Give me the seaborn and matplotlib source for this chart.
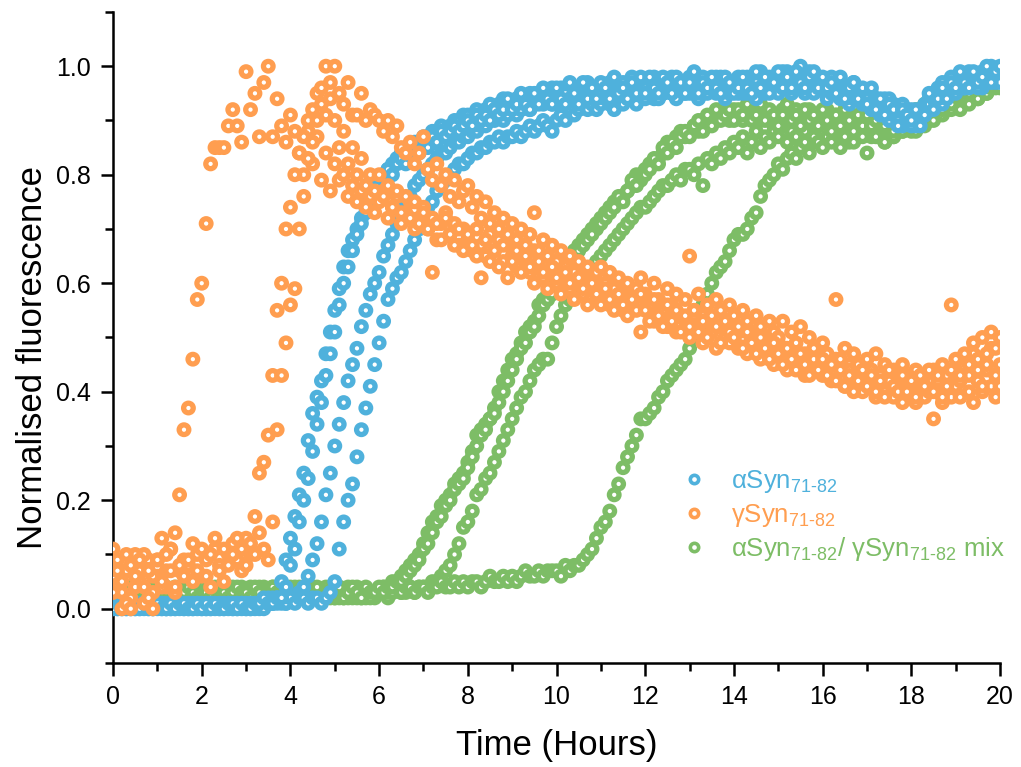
import numpy as np
import pandas as pd
import matplotlib
matplotlib.use('Agg')
import matplotlib.pyplot as plt
import seaborn as sns
from matplotlib.lines import Line2D
from matplotlib.ticker import MultipleLocator, FormatStrFormatter

# one plate reading every 0.1 h, 0-20 h
time_h = np.round(np.arange(201) * 0.1, 1)

# ---- aSyn 71-82 (four wells) ----
asyn_rep1 = [
    0.01, 0.00, 0.01, 0.00, 0.01, 0.00, 0.00, 0.01, 0.00, 0.01,
    0.00, 0.01, 0.00, 0.01, 0.01, 0.00, 0.01, 0.00, 0.01, 0.01,
    0.00, 0.01, 0.01, 0.00, 0.01, 0.01, 0.00, 0.01, 0.01, 0.00,
    0.01, 0.01, 0.00, 0.01, 0.01, 0.02, 0.01, 0.02, 0.05, 0.09,
    0.13, 0.17, 0.21, 0.25, 0.31, 0.36, 0.39, 0.42, 0.47, 0.51,
    0.55, 0.59, 0.63, 0.66, 0.68, 0.70, 0.72, 0.74, 0.76, 0.78,
    0.79, 0.80, 0.81, 0.82, 0.83, 0.84, 0.84, 0.85, 0.86, 0.86,
    0.87, 0.87, 0.88, 0.88, 0.89, 0.88, 0.89, 0.90, 0.90, 0.91,
    0.91, 0.90, 0.92, 0.91, 0.92, 0.93, 0.92, 0.93, 0.94, 0.93,
    0.93, 0.94, 0.93, 0.94, 0.95, 0.94, 0.95, 0.94, 0.95, 0.96,
    0.95, 0.96, 0.95, 0.94, 0.96, 0.95, 0.96, 0.97, 0.95, 0.96,
    0.96, 0.95, 0.97, 0.96, 0.95, 0.97, 0.96, 0.98, 0.96, 0.97,
    0.96, 0.97, 0.98, 0.96, 0.97, 0.96, 0.98, 0.97, 0.96, 0.97,
    0.98, 0.96, 0.97, 0.98, 0.97, 0.96, 0.97, 0.98, 0.97, 0.96,
    0.97, 0.98, 0.96, 0.97, 0.98, 0.97, 0.99, 0.97, 0.98, 0.97,
    0.98, 0.97, 0.99, 0.98, 0.97, 1.00, 0.98, 0.97, 0.98, 0.97,
    0.96, 0.97, 0.98, 0.96, 0.97, 0.96, 0.95, 0.97, 0.96, 0.95,
    0.94, 0.95, 0.94, 0.93, 0.94, 0.92, 0.93, 0.92, 0.93, 0.91,
    0.92, 0.90, 0.91, 0.93, 0.92, 0.94, 0.96, 0.97, 0.96, 0.98,
    0.97, 0.98, 0.97, 0.99, 0.98, 0.97, 0.99, 0.98, 1.00, 0.99,
    0.99]
asyn_rep2 = [
    0.00, 0.01, 0.00, 0.01, 0.00, 0.01, 0.01, 0.00, 0.01, 0.00,
    0.01, 0.00, 0.01, 0.00, 0.00, 0.01, 0.00, 0.01, 0.00, 0.01,
    0.01, 0.00, 0.01, 0.01, 0.00, 0.01, 0.01, 0.00, 0.01, 0.01,
    0.00, 0.01, 0.01, 0.00, 0.01, 0.01, 0.02, 0.01, 0.02, 0.01,
    0.02, 0.02, 0.03, 0.04, 0.06, 0.09, 0.12, 0.16, 0.21, 0.25,
    0.30, 0.34, 0.38, 0.42, 0.45, 0.48, 0.52, 0.55, 0.58, 0.60,
    0.62, 0.65, 0.67, 0.69, 0.71, 0.73, 0.75, 0.76, 0.78, 0.79,
    0.80, 0.81, 0.82, 0.83, 0.84, 0.84, 0.85, 0.86, 0.86, 0.87,
    0.87, 0.88, 0.88, 0.89, 0.89, 0.90, 0.90, 0.91, 0.90, 0.91,
    0.92, 0.91, 0.92, 0.93, 0.92, 0.93, 0.94, 0.93, 0.94, 0.93,
    0.94, 0.93, 0.95, 0.94, 0.95, 0.94, 0.93, 0.95, 0.94, 0.96,
    0.95, 0.94, 0.96, 0.95, 0.94, 0.96, 0.95, 0.94, 0.96, 0.95,
    0.96, 0.95, 0.94, 0.96, 0.95, 0.97, 0.96, 0.95, 0.97, 0.96,
    0.95, 0.97, 0.96, 0.95, 0.97, 0.96, 0.98, 0.96, 0.95, 0.97,
    0.96, 0.97, 0.95, 0.98, 0.96, 0.97, 0.96, 0.98, 0.97, 0.96,
    0.97, 0.99, 0.96, 0.97, 0.98, 0.96, 0.97, 0.99, 0.96, 0.98,
    0.97, 0.95, 0.96, 0.97, 0.95, 0.96, 0.94, 0.95, 0.96, 0.94,
    0.95, 0.93, 0.94, 0.92, 0.93, 0.94, 0.91, 0.92, 0.90, 0.92,
    0.91, 0.89, 0.90, 0.92, 0.94, 0.93, 0.95, 0.94, 0.96, 0.95,
    0.96, 0.97, 0.96, 0.98, 0.97, 0.98, 0.96, 0.99, 0.98, 0.97,
    0.98]
asyn_rep3 = [
    0.01, 0.00, 0.00, 0.01, 0.01, 0.00, 0.01, 0.01, 0.00, 0.00,
    0.01, 0.01, 0.00, 0.00, 0.01, 0.01, 0.00, 0.01, 0.01, 0.00,
    0.01, 0.00, 0.00, 0.01, 0.01, 0.00, 0.01, 0.00, 0.00, 0.01,
    0.01, 0.00, 0.01, 0.01, 0.00, 0.01, 0.01, 0.02, 0.01, 0.01,
    0.02, 0.01, 0.02, 0.02, 0.01, 0.02, 0.02, 0.01, 0.02, 0.03,
    0.05, 0.11, 0.16, 0.20, 0.23, 0.28, 0.33, 0.37, 0.41, 0.45,
    0.49, 0.53, 0.57, 0.59, 0.61, 0.62, 0.64, 0.66, 0.68, 0.70,
    0.72, 0.74, 0.75, 0.77, 0.78, 0.79, 0.80, 0.81, 0.82, 0.82,
    0.83, 0.84, 0.84, 0.85, 0.85, 0.86, 0.86, 0.87, 0.86, 0.87,
    0.87, 0.88, 0.87, 0.88, 0.89, 0.88, 0.89, 0.90, 0.89, 0.88,
    0.90, 0.91, 0.90, 0.92, 0.91, 0.92, 0.93, 0.92, 0.93, 0.92,
    0.93, 0.94, 0.93, 0.92, 0.94, 0.93, 0.95, 0.94, 0.93, 0.95,
    0.94, 0.95, 0.96, 0.94, 0.95, 0.96, 0.95, 0.94, 0.96, 0.95,
    0.96, 0.95, 0.94, 0.96, 0.95, 0.97, 0.95, 0.96, 0.94, 0.95,
    0.96, 0.95, 0.97, 0.95, 0.96, 0.94, 0.96, 0.95, 0.97, 0.96,
    0.95, 0.96, 0.97, 0.95, 0.96, 0.97, 0.95, 0.96, 0.95, 0.97,
    0.96, 0.94, 0.95, 0.96, 0.94, 0.95, 0.93, 0.94, 0.95, 0.93,
    0.94, 0.92, 0.93, 0.91, 0.92, 0.90, 0.91, 0.90, 0.89, 0.90,
    0.89, 0.90, 0.92, 0.91, 0.93, 0.94, 0.95, 0.93, 0.95, 0.96,
    0.95, 0.97, 0.96, 0.97, 0.98, 0.96, 0.98, 0.97, 0.99, 0.98,
    0.97]
asyn_rep4 = [
    0.00, 0.01, 0.01, 0.00, 0.00, 0.01, 0.00, 0.01, 0.01, 0.00,
    0.01, 0.00, 0.00, 0.01, 0.00, 0.01, 0.01, 0.00, 0.00, 0.01,
    0.00, 0.01, 0.00, 0.01, 0.00, 0.00, 0.01, 0.01, 0.00, 0.01,
    0.00, 0.00, 0.01, 0.01, 0.02, 0.01, 0.01, 0.02, 0.02, 0.04,
    0.08, 0.11, 0.16, 0.20, 0.24, 0.29, 0.34, 0.38, 0.43, 0.47,
    0.51, 0.56, 0.60, 0.63, 0.66, 0.69, 0.71, 0.73, 0.75, 0.77,
    0.78, 0.79, 0.81, 0.80, 0.82, 0.83, 0.82, 0.84, 0.85, 0.84,
    0.86, 0.85, 0.87, 0.86, 0.88, 0.87, 0.88, 0.89, 0.88, 0.89,
    0.90, 0.89, 0.91, 0.90, 0.91, 0.90, 0.92, 0.91, 0.92, 0.94,
    0.92, 0.93, 0.95, 0.93, 0.92, 0.95, 0.93, 0.96, 0.94, 0.93,
    0.96, 0.94, 0.93, 0.97, 0.95, 0.93, 0.97, 0.94, 0.96, 0.94,
    0.97, 0.96, 0.94, 0.98, 0.95, 0.96, 0.94, 0.97, 0.95, 0.98,
    0.95, 0.98, 0.96, 0.95, 0.98, 0.97, 0.95, 0.98, 0.97, 0.95,
    0.97, 0.99, 0.95, 0.97, 0.96, 0.98, 0.96, 0.95, 0.98, 0.97,
    0.95, 0.96, 0.98, 0.96, 0.95, 0.99, 0.96, 0.98, 0.95, 0.97,
    0.99, 0.96, 0.98, 0.96, 0.99, 0.97, 0.96, 0.98, 0.99, 0.96,
    0.98, 0.96, 0.97, 0.95, 0.98, 0.94, 0.96, 0.97, 0.94, 0.96,
    0.93, 0.96, 0.92, 0.94, 0.91, 0.93, 0.92, 0.89, 0.92, 0.91,
    0.90, 0.92, 0.89, 0.91, 0.95, 0.92, 0.94, 0.96, 0.94, 0.97,
    0.96, 0.99, 0.97, 0.96, 0.99, 0.97, 0.98, 1.00, 0.97, 0.99,
    1.00]

# ---- gSyn 71-82 ----
gsyn_rep1 = [
    0.11, 0.04, 0.00, 0.07, 0.02, 0.10, 0.05, 0.01, 0.09, 0.03,
    0.06, 0.13, 0.04, 0.11, 0.14, 0.21, 0.33, 0.37, 0.46, 0.57,
    0.60, 0.71, 0.82, 0.85, 0.85, 0.85, 0.89, 0.92, 0.89, 0.86,
    0.99, 0.92, 0.95, 0.87, 0.97, 1.00, 0.87, 0.94, 0.89, 0.86,
    0.91, 0.88, 0.84, 0.80, 0.88, 0.82, 0.87, 0.79, 0.84, 0.77,
    0.82, 0.79, 0.80, 0.76, 0.78, 0.75, 0.77, 0.74, 0.76, 0.73,
    0.75, 0.77, 0.72, 0.74, 0.76, 0.71, 0.73, 0.75, 0.70, 0.72,
    0.74, 0.70, 0.72, 0.68, 0.71, 0.73, 0.69, 0.71, 0.67, 0.70,
    0.68, 0.66, 0.70, 0.67, 0.65, 0.69, 0.66, 0.68, 0.64, 0.67,
    0.65, 0.63, 0.67, 0.64, 0.62, 0.66, 0.63, 0.61, 0.65, 0.62,
    0.60, 0.64, 0.61, 0.59, 0.63, 0.60, 0.58, 0.62, 0.59, 0.57,
    0.61, 0.58, 0.56, 0.60, 0.57, 0.55, 0.59, 0.56, 0.58, 0.51,
    0.57, 0.55, 0.53, 0.56, 0.54, 0.52, 0.55, 0.51, 0.54, 0.53,
    0.50, 0.54, 0.52, 0.49, 0.53, 0.51, 0.48, 0.52, 0.50, 0.49,
    0.52, 0.48, 0.50, 0.47, 0.51, 0.49, 0.46, 0.50, 0.47, 0.45,
    0.49, 0.46, 0.44, 0.48, 0.45, 0.47, 0.43, 0.46, 0.44, 0.47,
    0.43, 0.45, 0.42, 0.46, 0.44, 0.41, 0.45, 0.42, 0.44, 0.40,
    0.43, 0.41, 0.39, 0.42, 0.40, 0.43, 0.39, 0.41, 0.38, 0.42,
    0.40, 0.38, 0.41, 0.39, 0.42, 0.35, 0.40, 0.38, 0.42, 0.39,
    0.41, 0.39, 0.43, 0.40, 0.38, 0.42, 0.40, 0.44, 0.41, 0.39,
    0.41]
gsyn_rep2 = [
    0.06, 0.09, 0.03, 0.01, 0.08, 0.04, 0.07, 0.10, 0.02, 0.06,
    0.09, 0.04, 0.07, 0.11, 0.03, 0.07, 0.09, 0.08, 0.05, 0.10,
    0.06, 0.09, 0.04, 0.11, 0.08, 0.05, 0.10, 0.12, 0.09, 0.07,
    0.13, 0.10, 0.17, 0.25, 0.27, 0.32, 0.43, 0.55, 0.60, 0.70,
    0.74, 0.80, 0.84, 0.87, 0.90, 0.92, 0.95, 0.96, 1.00, 0.97,
    1.00, 0.95, 0.93, 0.97, 0.91, 0.91, 0.95, 0.90, 0.92, 0.91,
    0.90, 0.88, 0.90, 0.87, 0.89, 0.85, 0.84, 0.86, 0.82, 0.84,
    0.87, 0.81, 0.79, 0.82, 0.78, 0.80, 0.76, 0.79, 0.75, 0.77,
    0.78, 0.74, 0.76, 0.72, 0.75, 0.71, 0.73, 0.70, 0.72, 0.69,
    0.71, 0.68, 0.70, 0.67, 0.69, 0.73, 0.66, 0.68, 0.65, 0.67,
    0.64, 0.66, 0.63, 0.65, 0.62, 0.64, 0.61, 0.63, 0.60, 0.62,
    0.63, 0.60, 0.62, 0.59, 0.61, 0.58, 0.60, 0.57, 0.59, 0.61,
    0.58, 0.56, 0.60, 0.57, 0.55, 0.59, 0.56, 0.58, 0.54, 0.57,
    0.65, 0.55, 0.58, 0.54, 0.56, 0.53, 0.57, 0.55, 0.52, 0.56,
    0.54, 0.51, 0.55, 0.53, 0.50, 0.54, 0.52, 0.49, 0.53, 0.51,
    0.50, 0.53, 0.48, 0.51, 0.49, 0.52, 0.47, 0.50, 0.48, 0.46,
    0.49, 0.47, 0.45, 0.57, 0.46, 0.48, 0.44, 0.47, 0.45, 0.43,
    0.46, 0.44, 0.47, 0.43, 0.45, 0.42, 0.44, 0.41, 0.45, 0.43,
    0.42, 0.44, 0.41, 0.43, 0.40, 0.44, 0.42, 0.39, 0.43, 0.56,
    0.44, 0.42, 0.46, 0.43, 0.47, 0.44, 0.41, 0.45, 0.48, 0.43,
    0.45]
gsyn_rep3 = [
    0.03, 0.07, 0.05, 0.10, 0.00, 0.06, 0.09, 0.04, 0.07, 0.00,
    0.09, 0.05, 0.10, 0.07, 0.04, 0.08, 0.06, 0.09, 0.12, 0.07,
    0.11, 0.06, 0.10, 0.13, 0.07, 0.11, 0.08, 0.10, 0.13, 0.11,
    0.08, 0.12, 0.10, 0.14, 0.11, 0.09, 0.16, 0.33, 0.43, 0.49,
    0.56, 0.59, 0.70, 0.76, 0.83, 0.86, 0.90, 0.93, 0.91, 0.94,
    0.90, 0.85, 0.88, 0.82, 0.85, 0.80, 0.83, 0.78, 0.80, 0.77,
    0.80, 0.76, 0.78, 0.74, 0.77, 0.73, 0.76, 0.72, 0.75, 0.71,
    0.73, 0.70, 0.62, 0.71, 0.68, 0.72, 0.69, 0.67, 0.70, 0.66,
    0.69, 0.67, 0.65, 0.61, 0.68, 0.64, 0.66, 0.63, 0.67, 0.61,
    0.64, 0.66, 0.62, 0.65, 0.63, 0.60, 0.64, 0.62, 0.59, 0.63,
    0.61, 0.58, 0.62, 0.60, 0.57, 0.61, 0.59, 0.56, 0.60, 0.58,
    0.56, 0.59, 0.57, 0.55, 0.58, 0.56, 0.54, 0.57, 0.55, 0.58,
    0.55, 0.53, 0.57, 0.54, 0.52, 0.56, 0.53, 0.55, 0.51, 0.54,
    0.52, 0.55, 0.51, 0.53, 0.50, 0.54, 0.52, 0.49, 0.53, 0.51,
    0.50, 0.52, 0.48, 0.51, 0.49, 0.47, 0.50, 0.48, 0.46, 0.49,
    0.47, 0.45, 0.48, 0.46, 0.44, 0.47, 0.45, 0.43, 0.46, 0.44,
    0.46, 0.43, 0.45, 0.42, 0.44, 0.41, 0.43, 0.40, 0.42, 0.44,
    0.41, 0.43, 0.40, 0.42, 0.39, 0.44, 0.41, 0.40, 0.43, 0.40,
    0.42, 0.39, 0.43, 0.41, 0.44, 0.40, 0.43, 0.45, 0.41, 0.44,
    0.46, 0.43, 0.47, 0.45, 0.49, 0.46, 0.50, 0.47, 0.51, 0.48,
    0.50]

# ---- aSyn/gSyn mix ----
mix_rep1 = [
    0.03, 0.02, 0.03, 0.04, 0.02, 0.03, 0.03, 0.02, 0.04, 0.03,
    0.02, 0.03, 0.04, 0.03, 0.02, 0.03, 0.04, 0.03, 0.02, 0.03,
    0.04, 0.03, 0.02, 0.03, 0.04, 0.02, 0.03, 0.04, 0.03, 0.02,
    0.03, 0.04, 0.03, 0.02, 0.04, 0.03, 0.03, 0.02, 0.04, 0.03,
    0.03, 0.04, 0.02, 0.03, 0.04, 0.03, 0.02, 0.03, 0.04, 0.03,
    0.02, 0.03, 0.03, 0.04, 0.02, 0.03, 0.03, 0.02, 0.03, 0.03,
    0.03, 0.04, 0.04, 0.05, 0.05, 0.06, 0.07, 0.08, 0.09, 0.10,
    0.12, 0.14, 0.16, 0.17, 0.19, 0.20, 0.21, 0.23, 0.24, 0.25,
    0.27, 0.29, 0.32, 0.33, 0.34, 0.35, 0.37, 0.40, 0.42, 0.44,
    0.46, 0.47, 0.49, 0.51, 0.52, 0.53, 0.56, 0.57, 0.58, 0.59,
    0.61, 0.62, 0.64, 0.65, 0.66, 0.67, 0.68, 0.69, 0.70, 0.70,
    0.72, 0.73, 0.74, 0.75, 0.75, 0.76, 0.77, 0.78, 0.80, 0.79,
    0.81, 0.82, 0.82, 0.83, 0.84, 0.86, 0.85, 0.87, 0.88, 0.87,
    0.88, 0.89, 0.88, 0.90, 0.89, 0.91, 0.90, 0.92, 0.91, 0.90,
    0.92, 0.91, 0.90, 0.92, 0.91, 0.93, 0.90, 0.92, 0.91, 0.89,
    0.91, 0.92, 0.90, 0.89, 0.92, 0.91, 0.90, 0.92, 0.89, 0.91,
    0.90, 0.92, 0.89, 0.91, 0.90, 0.88, 0.91, 0.90, 0.89, 0.91,
    0.89, 0.90, 0.92, 0.88, 0.91, 0.89, 0.90, 0.88, 0.91, 0.90,
    0.90, 0.92, 0.91, 0.93, 0.92, 0.94, 0.93, 0.95, 0.94, 0.96,
    0.95, 0.97, 0.96, 0.98, 0.97, 0.96, 0.98, 0.97, 0.99, 0.98,
    0.99]
mix_rep2 = [
    0.02, 0.03, 0.03, 0.02, 0.04, 0.03, 0.02, 0.03, 0.03, 0.04,
    0.03, 0.02, 0.03, 0.03, 0.04, 0.02, 0.03, 0.02, 0.04, 0.03,
    0.02, 0.03, 0.04, 0.02, 0.03, 0.03, 0.04, 0.02, 0.03, 0.04,
    0.02, 0.03, 0.02, 0.04, 0.03, 0.02, 0.04, 0.03, 0.02, 0.03,
    0.04, 0.02, 0.03, 0.03, 0.02, 0.04, 0.03, 0.03, 0.02, 0.03,
    0.03, 0.02, 0.03, 0.02, 0.03, 0.04, 0.02, 0.03, 0.03, 0.02,
    0.03, 0.03, 0.02, 0.03, 0.04, 0.03, 0.03, 0.04, 0.03, 0.04,
    0.04, 0.04, 0.05, 0.05, 0.06, 0.07, 0.08, 0.10, 0.12, 0.15,
    0.16, 0.18, 0.21, 0.22, 0.24, 0.25, 0.27, 0.29, 0.31, 0.33,
    0.35, 0.37, 0.39, 0.40, 0.42, 0.44, 0.45, 0.46, 0.46, 0.49,
    0.52, 0.54, 0.56, 0.57, 0.58, 0.59, 0.61, 0.62, 0.63, 0.64,
    0.65, 0.66, 0.67, 0.68, 0.69, 0.70, 0.71, 0.72, 0.73, 0.74,
    0.74, 0.75, 0.76, 0.77, 0.78, 0.78, 0.79, 0.80, 0.79, 0.81,
    0.81, 0.80, 0.82, 0.78, 0.83, 0.82, 0.84, 0.83, 0.85, 0.84,
    0.86, 0.85, 0.87, 0.84, 0.86, 0.88, 0.85, 0.87, 0.86, 0.88,
    0.87, 0.89, 0.86, 0.88, 0.87, 0.89, 0.88, 0.86, 0.89, 0.87,
    0.88, 0.86, 0.89, 0.87, 0.90, 0.88, 0.86, 0.89, 0.87, 0.88,
    0.90, 0.87, 0.89, 0.88, 0.86, 0.89, 0.87, 0.90, 0.88, 0.89,
    0.88, 0.90, 0.89, 0.91, 0.90, 0.92, 0.91, 0.93, 0.92, 0.94,
    0.93, 0.95, 0.94, 0.96, 0.95, 0.94, 0.96, 0.95, 0.97, 0.96,
    0.97]
mix_rep3 = [
    0.03, 0.02, 0.03, 0.03, 0.02, 0.03, 0.02, 0.03, 0.03, 0.02,
    0.03, 0.02, 0.03, 0.02, 0.03, 0.03, 0.02, 0.03, 0.02, 0.03,
    0.03, 0.02, 0.03, 0.03, 0.02, 0.03, 0.03, 0.02, 0.03, 0.03,
    0.02, 0.03, 0.03, 0.02, 0.03, 0.03, 0.02, 0.03, 0.03, 0.02,
    0.03, 0.03, 0.02, 0.03, 0.02, 0.03, 0.03, 0.02, 0.03, 0.03,
    0.02, 0.03, 0.02, 0.03, 0.03, 0.02, 0.03, 0.03, 0.02, 0.03,
    0.03, 0.04, 0.03, 0.03, 0.04, 0.03, 0.04, 0.04, 0.03, 0.04,
    0.04, 0.03, 0.04, 0.04, 0.05, 0.04, 0.04, 0.05, 0.04, 0.05,
    0.04, 0.05, 0.05, 0.04, 0.05, 0.06, 0.05, 0.05, 0.06, 0.05,
    0.06, 0.05, 0.06, 0.07, 0.06, 0.06, 0.07, 0.06, 0.07, 0.07,
    0.07, 0.06, 0.08, 0.07, 0.08, 0.08, 0.09, 0.10, 0.11, 0.13,
    0.15, 0.16, 0.18, 0.21, 0.23, 0.26, 0.28, 0.30, 0.32, 0.35,
    0.35, 0.36, 0.37, 0.39, 0.40, 0.42, 0.43, 0.44, 0.45, 0.46,
    0.48, 0.50, 0.52, 0.56, 0.58, 0.60, 0.62, 0.63, 0.64, 0.66,
    0.68, 0.69, 0.69, 0.70, 0.72, 0.73, 0.76, 0.78, 0.79, 0.80,
    0.82, 0.81, 0.83, 0.84, 0.83, 0.85, 0.86, 0.84, 0.87, 0.86,
    0.85, 0.87, 0.86, 0.88, 0.85, 0.87, 0.89, 0.86, 0.88, 0.87,
    0.84, 0.88, 0.87, 0.89, 0.86, 0.88, 0.87, 0.89, 0.88, 0.90,
    0.89, 0.88, 0.90, 0.89, 0.91, 0.90, 0.92, 0.91, 0.93, 0.92,
    0.93, 0.92, 0.94, 0.93, 0.95, 0.94, 0.96, 0.95, 0.96, 0.97,
    0.96]
mix_rep4 = [
    0.02, 0.03, 0.02, 0.03, 0.03, 0.02, 0.04, 0.03, 0.02, 0.03,
    0.03, 0.04, 0.02, 0.03, 0.03, 0.02, 0.03, 0.04, 0.03, 0.02,
    0.03, 0.03, 0.02, 0.04, 0.03, 0.03, 0.02, 0.03, 0.04, 0.03,
    0.03, 0.02, 0.04, 0.03, 0.02, 0.03, 0.04, 0.03, 0.03, 0.04,
    0.02, 0.03, 0.04, 0.02, 0.03, 0.03, 0.04, 0.02, 0.03, 0.02,
    0.03, 0.04, 0.02, 0.03, 0.04, 0.03, 0.02, 0.04, 0.03, 0.03,
    0.04, 0.03, 0.04, 0.04, 0.05, 0.05, 0.06, 0.07, 0.08, 0.09,
    0.11, 0.12, 0.14, 0.16, 0.17, 0.19, 0.20, 0.22, 0.23, 0.24,
    0.26, 0.28, 0.30, 0.32, 0.33, 0.35, 0.36, 0.38, 0.40, 0.42,
    0.44, 0.46, 0.48, 0.49, 0.51, 0.52, 0.54, 0.56, 0.57, 0.58,
    0.60, 0.61, 0.63, 0.64, 0.65, 0.66, 0.67, 0.68, 0.69, 0.71,
    0.71, 0.72, 0.73, 0.74, 0.76, 0.75, 0.77, 0.79, 0.78, 0.80,
    0.80, 0.81, 0.83, 0.82, 0.85, 0.84, 0.86, 0.85, 0.87, 0.88,
    0.87, 0.89, 0.90, 0.88, 0.91, 0.89, 0.92, 0.90, 0.91, 0.92,
    0.90, 0.92, 0.91, 0.93, 0.90, 0.91, 0.93, 0.90, 0.92, 0.91,
    0.89, 0.91, 0.93, 0.90, 0.91, 0.89, 0.92, 0.90, 0.91, 0.89,
    0.92, 0.90, 0.88, 0.91, 0.89, 0.92, 0.90, 0.88, 0.91, 0.89,
    0.91, 0.89, 0.90, 0.91, 0.89, 0.92, 0.88, 0.91, 0.89, 0.92,
    0.91, 0.90, 0.92, 0.91, 0.93, 0.92, 0.94, 0.92, 0.95, 0.93,
    0.96, 0.95, 0.97, 0.95, 0.96, 0.98, 0.96, 0.98, 0.97, 0.99,
    0.98]

samples = ['asyn', 'gsyn', 'mix']
labels = [r'αSyn$_{\text{71-82}}$',
          r'γSyn$_{\text{71-82}}$',
          r'αSyn$_{\text{71-82}}$/ γSyn$_{\text{71-82}}$ mix']
colors = {'asyn': '#4fb1dc', 'gsyn': '#ff9e50', 'mix': '#7dbd66'}

# draw order in the figure: mix at the back, gSyn on top
replicates = {
    'mix': [mix_rep1, mix_rep2, mix_rep3, mix_rep4],
    'asyn': [asyn_rep1, asyn_rep2, asyn_rep3, asyn_rep4],
    'gsyn': [gsyn_rep1, gsyn_rep2, gsyn_rep3],
}
frames = []
for sample, reps in replicates.items():
    for i, vals in enumerate(reps):
        frames.append(pd.DataFrame({'time': time_h, 'fluor': vals,
                                    'sample': sample, 'rep': i + 1}))
df = pd.concat(frames, ignore_index=True)

sns.set_theme(style='ticks')
plt.rcParams['font.family'] = ['Liberation Sans', 'DejaVu Sans']
plt.rcParams['mathtext.fontset'] = 'custom'
plt.rcParams['mathtext.rm'] = 'Liberation Sans'
plt.rcParams['mathtext.it'] = 'Liberation Sans'
plt.rcParams['mathtext.bf'] = 'Liberation Sans'
plt.rcParams['axes.unicode_minus'] = False
plt.rcParams['text.color'] = 'black'
plt.rcParams['axes.labelcolor'] = 'black'

fig = plt.figure(figsize=(10.21, 7.67), dpi=100)
ax = fig.add_axes([0.1107, 0.1356, 0.8688, 0.8488])

sns.scatterplot(data=df, x='time', y='fluor', hue='sample', palette=colors,
                legend=False, ax=ax, zorder=3)
pts = ax.collections[0]
pts.set_edgecolors(pts.get_facecolors())
pts.set_facecolor('white')
pts.set_sizes([48])       # hollow rings, ~14 px across, small white hole
pts.set_linewidths(3.8)

ax.set_xlim(0, 20)
ax.set_ylim(-0.1, 1.1)
ax.xaxis.set_major_locator(MultipleLocator(2))
ax.xaxis.set_minor_locator(MultipleLocator(1))
ax.set_yticks([0.0, 0.2, 0.4, 0.6, 0.8, 1.0])
ax.yaxis.set_minor_locator(MultipleLocator(0.1))
ax.yaxis.set_major_formatter(FormatStrFormatter('%.1f'))
ax.tick_params(which='major', length=9, width=1.8, labelsize=18, pad=7,
               color='black', labelcolor='black')
ax.tick_params(which='minor', length=5.5, width=1.8, color='black')
for side in ['left', 'bottom']:
    ax.spines[side].set_linewidth(1.8)
    ax.spines[side].set_color('black')
sns.despine(ax=ax)

ax.set_xlabel('Time (Hours)', fontsize=25, labelpad=14)
ax.set_ylabel('Normalised fluorescence', fontsize=25)
ax.yaxis.set_label_coords(-0.072, 0.47)

handles = [Line2D([], [], linestyle='none', marker='o', markersize=6,
                  markerfacecolor='white', markeredgecolor=colors[s],
                  markeredgewidth=2.6) for s in samples]
leg = ax.legend(handles, labels, loc='center left', bbox_to_anchor=(0.641, 0.226),
                frameon=False, fontsize=18.5, handlelength=1.0, handletextpad=0.94,
                borderpad=0, borderaxespad=0, labelspacing=0.25,
                labelcolor=[colors[s] for s in samples])

fig.savefig('out.png', dpi=100)
